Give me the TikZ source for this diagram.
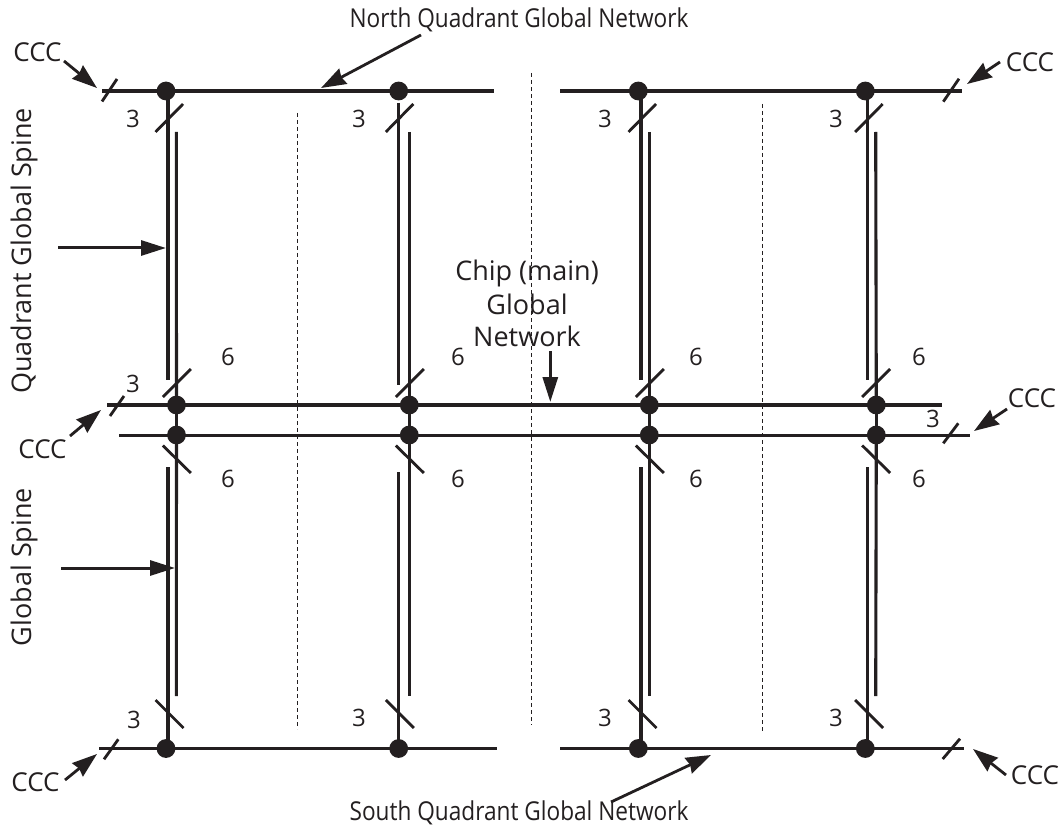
\documentclass[tikz,border=0pt]{standalone}
\usepackage{fontspec}
\setmainfont{Open Sans}
\newfontfamily\narrowface[FakeStretch=0.87]{Open Sans}
\usetikzlibrary{arrows.meta}
\definecolor{ink}{HTML}{231F20}
\tikzset{
  wire/.style={draw=ink,line width=3.1pt},
  tickmark/.style={draw=ink,line width=2.8pt},
  guide/.style={draw=ink,line width=1pt,dash pattern=on 4pt off 3pt},
  junction/.style={circle,fill=ink,inner sep=0pt,minimum size=18.8pt},
  lbl/.style={inner sep=0pt,text=ink,font=\fontsize{27}{27}\selectfont},
  ttl/.style={inner sep=0pt,text=ink,anchor=base,font=\narrowface\fontsize{26}{26}\selectfont},
  ccc/.style={inner sep=0pt,text=ink,font=\fontsize{26}{26}\selectfont},
  num/.style={inner sep=0pt,text=ink,font=\fontsize{24}{24}\selectfont},
  callout/.style={draw=ink,line width=2.8pt,-{Stealth[length=25pt,width=17pt,inset=2pt]}},
  ptr/.style={draw=ink,line width=3pt,-{Stealth[length=25pt,width=15pt,inset=0pt]}},
}
\begin{document}
\begin{tikzpicture}[x=1pt,y=-1pt]
\useasboundingbox (0,0) rectangle (1062,826);
% dashed guides
\foreach \n/\x/\a/\b in {g1/297/113/729,g2/531/73/725,g3/762/104/733}{
  \coordinate (\n a) at (\x,\a); \coordinate (\n b) at (\x,\b);
  \draw[guide] (\n a) -- (\n b);
}
% columns
\foreach \c/\t/\l/\r/\m/\ue/\ls/\st in {
  1/166/168/176.3/176.5/380/467/91,
  2/398.7/398.3/409.3/409.3/385/472/103,
  3/638.3/641/649.3/649.3/380/467/91,
  4/865.3/867.7/875.7/876.3/380/467/91}{
  \node[junction] (top\c) at (\t,91) {};
  \node[junction] (bot\c) at (\t,748.5) {};
  \node[junction] (mu\c) at (\m,405) {};
  \node[junction] (ml\c) at (\m,435) {};
  \coordinate (lt\c) at (\l,\st);
  \coordinate (lu\c) at (\l,\ue);
  \coordinate (ll\c) at (\l,\ls);
  \coordinate (lb\c) at (\l,748.5);
  \coordinate (rt\c) at (\r,132);
  \coordinate (rb\c) at (\r,696);
  \draw[wire] (lt\c) -- (lu\c);
  \draw[wire] (ll\c) -- (lb\c);
  \draw[wire] (rt\c) -- (mu\c.center);
  \draw[wire] (mu\c.center) -- (ml\c.center);
  \draw[wire] (ml\c.center) -- (rb\c);
  % slashes
  \coordinate (sa\c) at (\l-12.5,132); \coordinate (sb\c) at (\l+15,104);
  \draw[tickmark] (sa\c) -- (sb\c);
  \coordinate (sc\c) at (\r-13.5,397); \coordinate (sd\c) at (\r+14.5,369);
  \draw[tickmark] (sc\c) -- (sd\c);
  \coordinate (se\c) at (\r-13.5,445.5); \coordinate (sf\c) at (\r+14.5,473);
  \draw[tickmark] (se\c) -- (sf\c);
  \coordinate (sg\c) at (\l-12.5,700); \coordinate (sh\c) at (\l+15.5,728);
  \draw[tickmark] (sg\c) -- (sh\c);
}
% horizontal networks
\coordinate (nl) at (102,91); \coordinate (nm) at (494,91);
\coordinate (nn) at (560,91); \coordinate (nr) at (962,91);
\coordinate (sl) at (99,748.5); \coordinate (sm) at (497,748.5);
\coordinate (sn) at (560,748.5); \coordinate (sr) at (964,748.5);
\coordinate (cul) at (107,405); \coordinate (cur) at (942,405);
\coordinate (cll) at (119,435.3); \coordinate (clr) at (970,435.3);
\draw[wire] (nl) -- (nm); \draw[wire] (nn) -- (nr);
\draw[wire] (sl) -- (sm); \draw[wire] (sn) -- (sr);
\draw[wire] (cul) -- (cur); \draw[wire] (cll) -- (clr);
% end slashes
\foreach \n/\xa/\ya/\xb/\yb in {
  e1/102/101.5/117/79,
  e2/943.3/101.7/959/78.7,
  e3/110/416/124/396,
  e4/943.3/443.3/958.3/423.3,
  e5/104/759.3/118.3/739.3,
  e6/942.7/759/960/738.7}{
  \coordinate (\n a) at (\xa,\ya); \coordinate (\n b) at (\xb,\yb);
  \draw[tickmark] (\n a) -- (\n b);
}
% labels
\node[ttl] (tnorth) at (519,28) {North Quadrant Global Network};
\node[ttl] (tsouth) at (519,820) {South Quadrant Global Network};
\node[lbl,rotate=90] (tqgs) at (24,251) {Quadrant Global Spine};
\node[lbl,rotate=90] (tgs) at (24,567) {Global Spine};
\node[lbl] (tchip1) at (527,273) {Chip (main)};
\node[lbl] (tchip2) at (527,304) {Global};
\node[lbl] (tchip3) at (527,336) {Network};
\node[ccc] (c1) at (37.5,52) {CCC};
\node[ccc] (c2) at (1030,62) {CCC};
\node[ccc] (c3) at (42.5,449) {CCC};
\node[ccc] (c4) at (1032,398) {CCC};
\node[ccc] (c5) at (35.5,782) {CCC};
\node[ccc] (c6) at (1035,775) {CCC};
\foreach \n/\x/\y/\t in {
  a1/133/119/3,a2/359/119/3,a3/605/119/3,a4/836/119/3,
  b1/228/357/6,b2/458/357/6,b3/696/357/6,b4/919/357/6,
  d1/228/479/6,d2/458/479/6,d3/696/479/6,d4/919/479/6,
  f1/134/720/3,f2/359/718/3,f3/605/718/3,f4/836/718/3,
  h1/133/384/3,h2/933/419/3}{
  \node[num] (\n) at (\x,\y) {\t};
}
% arrows
\foreach \n/\xa/\ya/\xb/\yb in {
  k1/64/61/97/88,
  k2/1000/62/967/84,
  k3/70/436/101/410,
  k4/1007/409/974/431,
  k5/65/780/97/754,
  k6/1006/775/973/749,
  k7/421/35/321/88,
  k8/611/802/711/755}{
  \coordinate (\n a) at (\xa,\ya); \coordinate (\n b) at (\xb,\yb);
  \draw[callout] (\n a) -- (\n b);
}
\foreach \n/\xa/\ya/\xb/\yb in {
  p1/58/248/166/248,
  p2/61/568/175/568,
  p3/550.3/351/550.3/402}{
  \coordinate (\n a) at (\xa,\ya); \coordinate (\n b) at (\xb,\yb);
  \draw[ptr] (\n a) -- (\n b);
}
\end{tikzpicture}
\end{document}
